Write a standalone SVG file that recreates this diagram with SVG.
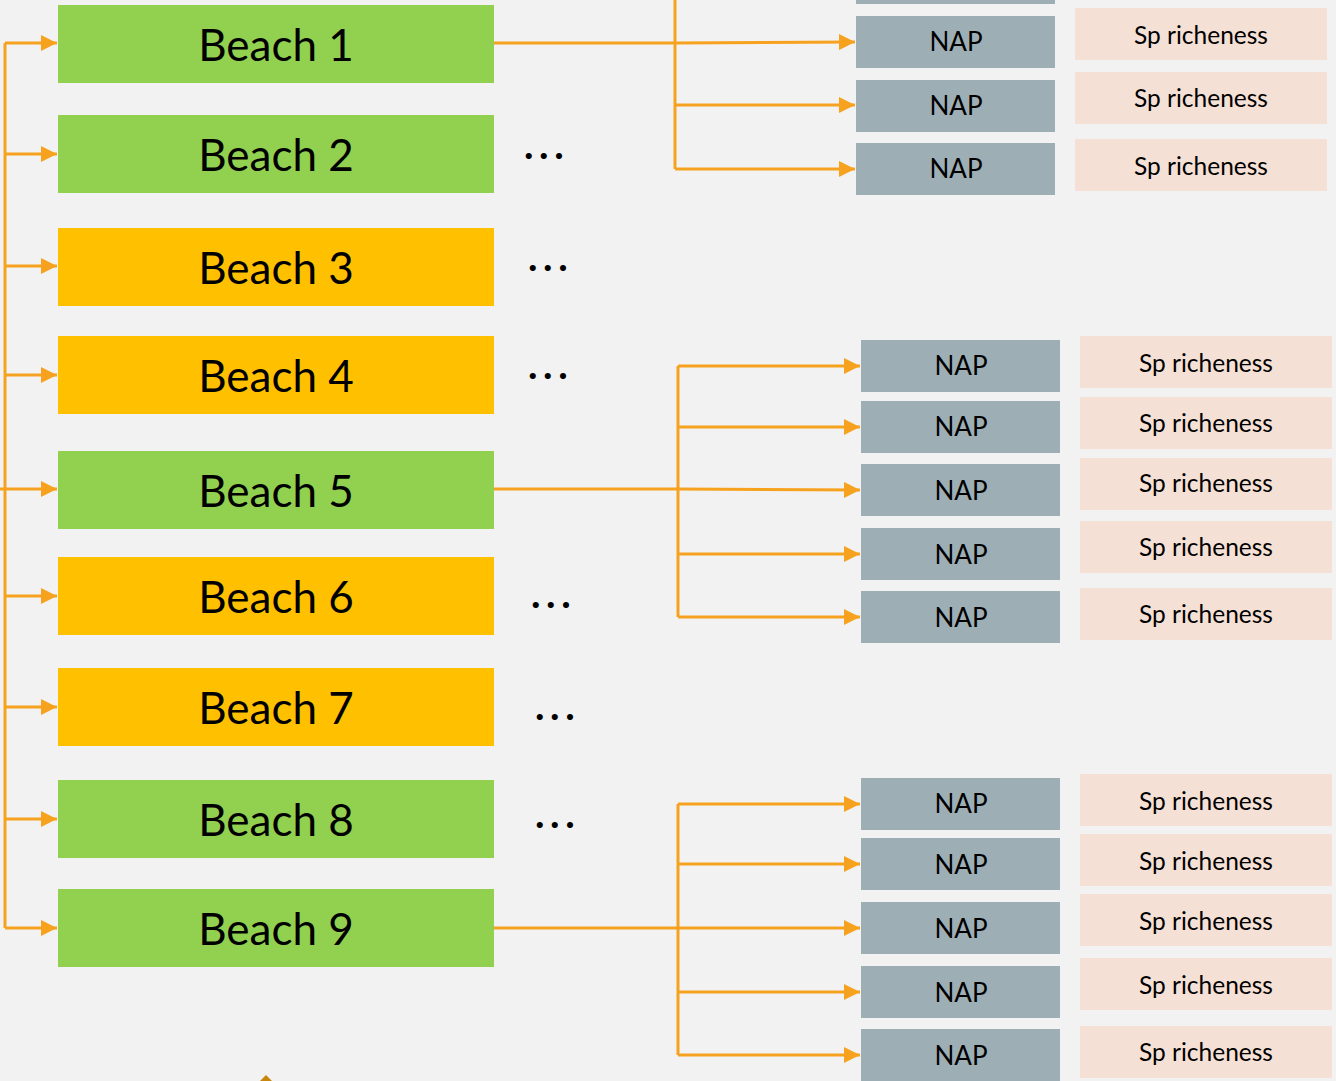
<svg xmlns="http://www.w3.org/2000/svg" width="1336" height="1081" viewBox="0 0 1336 1081">
<style>
.bg{fill:#F2F2F2}
.green{fill:#92D050}
.yellow{fill:#FFC000}
.nap{fill:#9DAFB5}
.sp{fill:#F5E0D5}
.bt{font-family:Lato,"Open Sans","Liberation Sans",sans-serif;font-size:44px;fill:#000;text-anchor:middle}
.nt{font-family:Lato,"Open Sans","Liberation Sans",sans-serif;font-size:26px;fill:#000;text-anchor:middle}
.st{font-family:Lato,"Open Sans","Liberation Sans",sans-serif;font-size:24.5px;fill:#000;text-anchor:middle}
.dots{font-family:Lato,"Liberation Sans",sans-serif;font-size:40px;font-weight:bold;fill:#000;letter-spacing:5.6px}
.c{fill:none;stroke:#F6A21E;stroke-width:3}
</style>
<defs>
<marker id="ah" markerUnits="userSpaceOnUse" markerWidth="16" markerHeight="16" refX="16" refY="8" orient="auto">
<path d="M0,0 L16,8 L0,16 Z" fill="#F6A21E"/>
</marker>
</defs>
<rect class="bg" x="0" y="0" width="1336" height="1081"/>

<g id="connectors">
<path class="c" d="M5,43 V928"/>
<path class="c" d="M5,43 H57" marker-end="url(#ah)"/>
<path class="c" d="M5,154 H57" marker-end="url(#ah)"/>
<path class="c" d="M5,266 H57" marker-end="url(#ah)"/>
<path class="c" d="M5,375 H57" marker-end="url(#ah)"/>
<path class="c" d="M0,489 H57" marker-end="url(#ah)"/>
<path class="c" d="M5,596 H57" marker-end="url(#ah)"/>
<path class="c" d="M5,707 H57" marker-end="url(#ah)"/>
<path class="c" d="M5,819 H57" marker-end="url(#ah)"/>
<path class="c" d="M5,928 H57" marker-end="url(#ah)"/>

<path class="c" d="M675,0 V169"/>
<path class="c" d="M494,43 L675,43 L855,42" marker-end="url(#ah)"/>
<path class="c" d="M675,105 H855" marker-end="url(#ah)"/>
<path class="c" d="M675,169 H855" marker-end="url(#ah)"/>

<path class="c" d="M678,366 V617"/>
<path class="c" d="M678,366 H860" marker-end="url(#ah)"/>
<path class="c" d="M678,427 H860" marker-end="url(#ah)"/>
<path class="c" d="M494,489 L678,489 L860,490" marker-end="url(#ah)"/>
<path class="c" d="M678,554 H860" marker-end="url(#ah)"/>
<path class="c" d="M678,617 H860" marker-end="url(#ah)"/>

<path class="c" d="M678,804 V1055"/>
<path class="c" d="M678,804 H860" marker-end="url(#ah)"/>
<path class="c" d="M678,864 H860" marker-end="url(#ah)"/>
<path class="c" d="M494,928 H860" marker-end="url(#ah)"/>
<path class="c" d="M678,992 H860" marker-end="url(#ah)"/>
<path class="c" d="M678,1055 H860" marker-end="url(#ah)"/>
</g>

<g id="beach1"><rect class="green" x="58" y="5" width="436" height="78"/><text class="bt" x="276" y="61">Beach 1</text></g>
<g id="beach2"><rect class="green" x="58" y="115" width="436" height="78"/><text class="bt" x="276" y="171">Beach 2</text></g>
<g id="beach3"><rect class="yellow" x="58" y="228" width="436" height="78"/><text class="bt" x="276" y="284">Beach 3</text></g>
<g id="beach4"><rect class="yellow" x="58" y="336" width="436" height="78"/><text class="bt" x="276" y="392">Beach 4</text></g>
<g id="beach5"><rect class="green" x="58" y="451" width="436" height="78"/><text class="bt" x="276" y="507">Beach 5</text></g>
<g id="beach6"><rect class="yellow" x="58" y="557" width="436" height="78"/><text class="bt" x="276" y="613">Beach 6</text></g>
<g id="beach7"><rect class="yellow" x="58" y="668" width="436" height="78"/><text class="bt" x="276" y="724">Beach 7</text></g>
<g id="beach8"><rect class="green" x="58" y="780" width="436" height="78"/><text class="bt" x="276" y="836">Beach 8</text></g>
<g id="beach9"><rect class="green" x="58" y="889" width="436" height="78"/><text class="bt" x="276" y="945">Beach 9</text></g>

<g id="dots">
<text class="dots" x="524" y="159">...</text>
<text class="dots" x="528" y="271">...</text>
<text class="dots" x="528" y="379">...</text>
<text class="dots" x="531" y="608">...</text>
<text class="dots" x="535" y="720">...</text>
<text class="dots" x="535" y="828">...</text>
</g>

<g id="nap-top">
<rect class="nap" x="856" y="-48" width="199" height="52"/>
<g id="nap-t1"><rect class="nap" x="856" y="16" width="199" height="52"/><text class="nt" x="956" y="51">NAP</text></g>
<g id="nap-t2"><rect class="nap" x="856" y="80" width="199" height="52"/><text class="nt" x="956" y="115">NAP</text></g>
<g id="nap-t3"><rect class="nap" x="856" y="143" width="199" height="52"/><text class="nt" x="956" y="178">NAP</text></g>
</g>
<g id="sp-top">
<g id="sp-t1"><rect class="sp" x="1075" y="8" width="252" height="52"/><text class="st" x="1201" y="44">Sp richeness</text></g>
<g id="sp-t2"><rect class="sp" x="1075" y="72" width="252" height="52"/><text class="st" x="1201" y="107">Sp richeness</text></g>
<g id="sp-t3"><rect class="sp" x="1075" y="139" width="252" height="52"/><text class="st" x="1201" y="175">Sp richeness</text></g>
</g>

<g id="nap-mid">
<g id="nap-m1"><rect class="nap" x="861" y="340" width="199" height="52"/><text class="nt" x="961" y="375">NAP</text></g>
<g id="nap-m2"><rect class="nap" x="861" y="401" width="199" height="52"/><text class="nt" x="961" y="436">NAP</text></g>
<g id="nap-m3"><rect class="nap" x="861" y="464" width="199" height="52"/><text class="nt" x="961" y="500">NAP</text></g>
<g id="nap-m4"><rect class="nap" x="861" y="528" width="199" height="52"/><text class="nt" x="961" y="564">NAP</text></g>
<g id="nap-m5"><rect class="nap" x="861" y="591" width="199" height="52"/><text class="nt" x="961" y="627">NAP</text></g>
</g>
<g id="sp-mid">
<g id="sp-m1"><rect class="sp" x="1080" y="336" width="252" height="52"/><text class="st" x="1206" y="372">Sp richeness</text></g>
<g id="sp-m2"><rect class="sp" x="1080" y="397" width="252" height="52"/><text class="st" x="1206" y="432">Sp richeness</text></g>
<g id="sp-m3"><rect class="sp" x="1080" y="458" width="252" height="52"/><text class="st" x="1206" y="492">Sp richeness</text></g>
<g id="sp-m4"><rect class="sp" x="1080" y="521" width="252" height="52"/><text class="st" x="1206" y="556">Sp richeness</text></g>
<g id="sp-m5"><rect class="sp" x="1080" y="588" width="252" height="52"/><text class="st" x="1206" y="623">Sp richeness</text></g>
</g>

<g id="nap-bot">
<g id="nap-b1"><rect class="nap" x="861" y="778" width="199" height="52"/><text class="nt" x="961" y="813">NAP</text></g>
<g id="nap-b2"><rect class="nap" x="861" y="838" width="199" height="52"/><text class="nt" x="961" y="874">NAP</text></g>
<g id="nap-b3"><rect class="nap" x="861" y="902" width="199" height="52"/><text class="nt" x="961" y="938">NAP</text></g>
<g id="nap-b4"><rect class="nap" x="861" y="966" width="199" height="52"/><text class="nt" x="961" y="1002">NAP</text></g>
<g id="nap-b5"><rect class="nap" x="861" y="1029" width="199" height="60"/><text class="nt" x="961" y="1065">NAP</text></g>
</g>
<g id="sp-bot">
<g id="sp-b1"><rect class="sp" x="1080" y="774" width="252" height="52"/><text class="st" x="1206" y="810">Sp richeness</text></g>
<g id="sp-b2"><rect class="sp" x="1080" y="834" width="252" height="52"/><text class="st" x="1206" y="870">Sp richeness</text></g>
<g id="sp-b3"><rect class="sp" x="1080" y="894" width="252" height="52"/><text class="st" x="1206" y="930">Sp richeness</text></g>
<g id="sp-b4"><rect class="sp" x="1080" y="958" width="252" height="52"/><text class="st" x="1206" y="994">Sp richeness</text></g>
<g id="sp-b5"><rect class="sp" x="1080" y="1026" width="252" height="52"/><text class="st" x="1206" y="1061">Sp richeness</text></g>
</g>

<polygon points="260,1081 266,1075 272,1081" fill="#C8860E"/>
</svg>
